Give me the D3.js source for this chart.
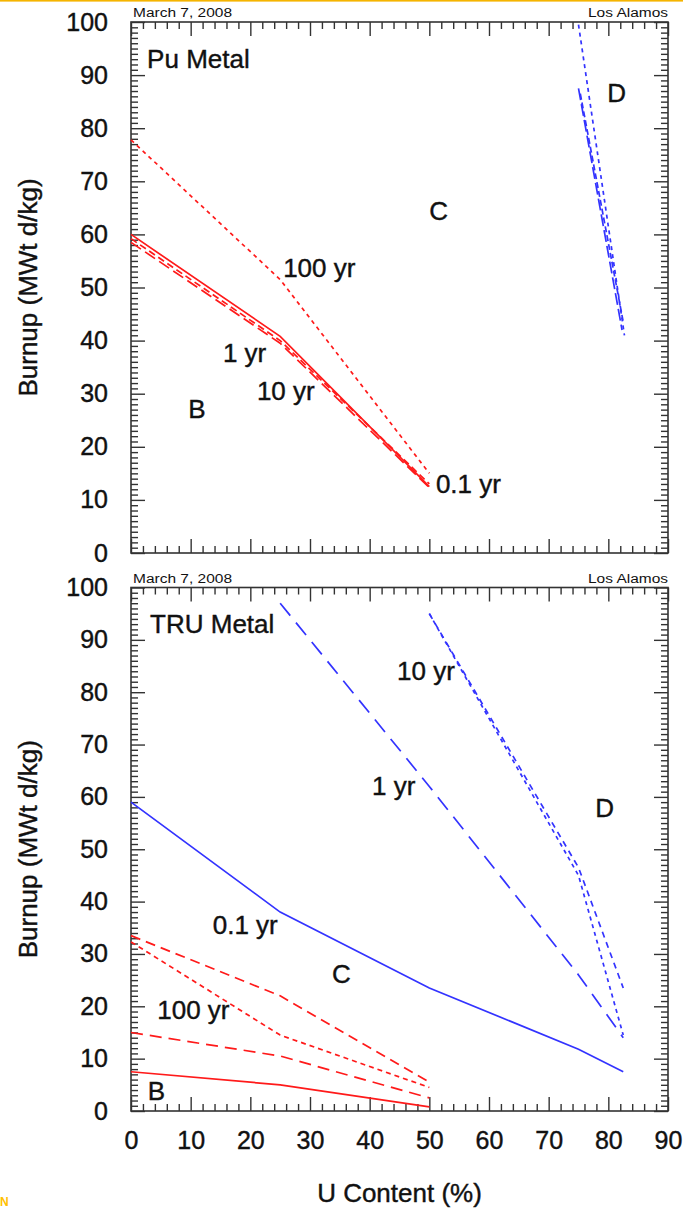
<!DOCTYPE html>
<html>
<head>
<meta charset="utf-8">
<script src="https://cdn.jsdelivr.net/npm/d3@7"></script>
<style>
body { margin: 0; background: #fff; }
text { font-family: "Liberation Sans", Arial, sans-serif; fill: #111; }
</style>
</head>
<body>
<svg id="chart" width="683" height="1208"></svg>
<script>
// values: U content (%) vs burnup (MWt d/kg)
var uTicks = [0, 10, 20, 30, 40, 50, 60, 70, 80, 90];
var burnTicks = [0, 10, 20, 30, 40, 50, 60, 70, 80, 90, 100];

// Pu metal panel
var puRed01 = [[0, 60], [25, 40.8], [50, 12.5]];
var puRed1 = [[0, 58.5], [25, 39.5], [50, 12.3]];
var puRed10 = [[0, 59.2], [25, 40], [50, 13]];
var puRed100 = [[0, 77.8], [25, 51.5], [50, 15]];
var puBlueA = [[75, 99.5], [82.7, 41]];
var puBlueB = [[75, 87.5], [82.3, 42]];
var puBlueC = [[75.3, 86.5], [82.5, 43.5]];

// TRU metal panel
var truBlue01 = [[0, 59], [25, 38], [50, 23.5], [75, 11.8], [82.5, 7.5]];
var truBlue1 = [[25, 97], [50, 62], [75, 26], [82.5, 14]];
var truBlue10 = [[50, 95], [75, 46.5], [82.5, 23.5]];
var truBlue100 = [[50, 95], [75, 45], [82.5, 14.5]];
var truRedA = [[0, 33.5], [25, 22], [50, 5.5]];
var truRedB = [[0, 32.3], [25, 14.5], [50, 4.5]];
var truRedC = [[0, 15], [25, 10.5], [50, 2.5]];
var truRedD = [[0, 7.5], [25, 5], [50, 0.8]];

// annotations (in data units)
var puNotes = [["Pu Metal", 2.7, 91.3], ["C", 50, 62.7], ["D", 79.8, 84.9], ["100 yr", 25.5, 52],
  ["1 yr", 15.4, 36], ["10 yr", 21.1, 28.8], ["B", 9.6, 25.4], ["0.1 yr", 51.1, 11.3]];
var truNotes = [["TRU Metal", 3.2, 91.3], ["10 yr", 44.6, 82.3], ["1 yr", 40.4, 60.4], ["D", 77.8, 56.2],
  ["0.1 yr", 13.7, 33.8], ["C", 33.7, 24.5], ["100 yr", 4.4, 17.6], ["B", 2.8, 2.1]];

var red = "#ff1a1a", blue = "#3333ff";
var panels = [
  { top: 22, bottom: 553, xLabels: false, notes: puNotes, series: [
    { d: puRed100, c: red, dash: "4,4" },
    { d: puRed10, c: red, dash: "7,4" },
    { d: puRed1, c: red, dash: "12,5" },
    { d: puRed01, c: red, dash: null },
    { d: puBlueA, c: blue, dash: "4,4" },
    { d: puBlueB, c: blue, dash: "12,4" },
    { d: puBlueC, c: blue, dash: "6,3" } ] },
  { top: 587.5, bottom: 1111, xLabels: true, notes: truNotes, series: [
    { d: truBlue01, c: blue, dash: null },
    { d: truBlue1, c: blue, dash: "16,9" },
    { d: truBlue10, c: blue, dash: "6,5" },
    { d: truBlue100, c: blue, dash: "4,4" },
    { d: truRedA, c: red, dash: "10,6" },
    { d: truRedB, c: red, dash: "5,4" },
    { d: truRedC, c: red, dash: "12,7" },
    { d: truRedD, c: red, dash: null } ] }
];

var left = 131, right = 668;
var svg = d3.select("#chart");

// slide decoration
svg.append("rect").attr("x", 0).attr("y", 0).attr("width", 683).attr("height", 1.6).attr("fill", "#f5b400");
svg.append("text").text("N").attr("x", 0).attr("y", 1206).style("font-size", "12px")
  .style("font-weight", "bold").style("fill", "#ffc000");

var minorX = d3.range(0, 91, 2).filter(function (v) { return v % 10 != 0; });
var minorY = d3.range(0, 101, 1).filter(function (v) { return v % 10 != 0; });

panels.forEach(function (p) {
  var x = d3.scaleLinear().domain([0, 90]).range([left, right]);
  var y = d3.scaleLinear().domain([0, 100]).range([p.bottom, p.top]);
  var g = svg.append("g");

  function axis(gen, tx, ty, vals, size, fmt, pad) {
    var a = g.append("g").attr("transform", "translate(" + tx + "," + ty + ")")
      .call(gen.tickValues(vals).tickSize(-size).tickSizeOuter(0).tickPadding(pad).tickFormat(fmt));
    a.select(".domain").remove();
    a.selectAll("line").attr("stroke", "#333").attr("stroke-width", 1.4);
    a.selectAll("text").style("font-size", "25px").style("fill", "#111")
      .style("stroke", "#111").style("stroke-width", 0.4).attr("font-family", null);
    return a;
  }
  var none = function () { return ""; };
  axis(d3.axisBottom(x), 0, p.bottom, uTicks, 14, p.xLabels ? d3.format("d") : none, 20);
  axis(d3.axisBottom(x), 0, p.bottom, minorX, 7, none, 0);
  axis(d3.axisTop(x), 0, p.top, uTicks, 14, none, 0);
  axis(d3.axisTop(x), 0, p.top, minorX, 7, none, 0);
  axis(d3.axisLeft(y), left, 0, burnTicks, 14, d3.format("d"), 23);
  axis(d3.axisLeft(y), left, 0, minorY, 7, none, 0);
  axis(d3.axisRight(y), right, 0, burnTicks, 14, none, 0);
  axis(d3.axisRight(y), right, 0, minorY, 7, none, 0);

  g.append("rect").attr("x", left).attr("y", p.top).attr("width", right - left)
    .attr("height", p.bottom - p.top).attr("fill", "none").attr("stroke", "#333").attr("stroke-width", 1.6);

  var line = d3.line().x(function (d) { return x(d[0]); }).y(function (d) { return y(d[1]); });
  g.selectAll(".series").data(p.series).enter().append("path")
    .attr("d", function (s) { return line(s.d); })
    .attr("fill", "none")
    .attr("stroke", function (s) { return s.c; })
    .attr("stroke-width", 1.7)
    .attr("stroke-dasharray", function (s) { return s.dash; });

  g.selectAll(".note").data(p.notes).enter().append("text")
    .attr("x", function (n) { return x(n[1]); })
    .attr("y", function (n) { return y(n[2]); })
    .style("font-size", "26px").style("stroke", "#111").style("stroke-width", 0.4)
    .text(function (n) { return n[0]; });

  g.append("text").text("March 7, 2008").attr("x", left + 2).attr("y", p.top - 5)
    .attr("textLength", 99).attr("lengthAdjust", "spacingAndGlyphs").style("font-size", "12px");
  g.append("text").text("Los Alamos").attr("x", right).attr("y", p.top - 5).attr("text-anchor", "end")
    .attr("textLength", 80).attr("lengthAdjust", "spacingAndGlyphs").style("font-size", "12px");

  g.append("text").text("Burnup (MWt d/kg)")
    .attr("transform", "translate(37," + ((p.top + p.bottom) / 2) + ") rotate(-90)")
    .attr("text-anchor", "middle").style("font-size", "26px")
    .style("stroke", "#111").style("stroke-width", 0.4);
});

svg.append("text").text("U Content (%)").attr("x", (left + right) / 2).attr("y", 1202)
  .attr("text-anchor", "middle").style("font-size", "26px")
  .style("stroke", "#111").style("stroke-width", 0.4);
</script>
</body>
</html>
